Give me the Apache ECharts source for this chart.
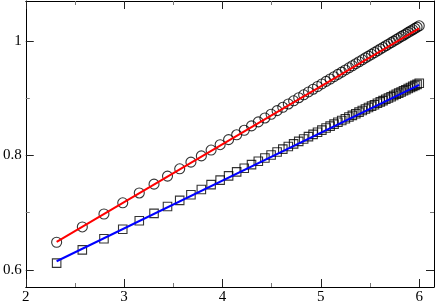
<!DOCTYPE html>
<html>
<head>
<meta charset="utf-8">
<script src="https://cdn.jsdelivr.net/npm/echarts@6/dist/echarts.min.js"></script>
<style>html,body{margin:0;padding:0;background:#fff}#c{width:436px;height:305px}</style>
</head>
<body>
<div id="c"></div>
<script>
var xValues = [2.314,2.575,2.795,2.986,3.154,3.304,3.441,3.565,3.679,3.785,3.884,3.976,4.062,4.144,4.221,4.295,4.364,4.431,4.494,4.555,4.613,4.669,4.723,4.775,4.825,4.874,4.921,4.966,5.010,5.053,5.094,5.134,5.173,5.212,5.249,5.285,5.320,5.355,5.388,5.421,5.453,5.484,5.515,5.545,5.575,5.604,5.632,5.660,5.687,5.714,5.740,5.766,5.791,5.816,5.840,5.864,5.888,5.911,5.934,5.956,5.978,6.000];
var circleValues = [0.6482,0.6750,0.6976,0.7172,0.7344,0.7498,0.7639,0.7766,0.7883,0.7992,0.8094,0.8188,0.8277,0.8361,0.8440,0.8516,0.8587,0.8655,0.8720,0.8783,0.8842,0.8900,0.8955,0.9009,0.9060,0.9110,0.9158,0.9205,0.9250,0.9294,0.9336,0.9377,0.9417,0.9457,0.9495,0.9532,0.9568,0.9604,0.9638,0.9672,0.9705,0.9736,0.9768,0.9799,0.9830,0.9860,0.9888,0.9917,0.9945,0.9972,0.9999,1.0026,1.0052,1.0077,1.0102,1.0126,1.0151,1.0175,1.0198,1.0221,1.0244,1.0266];
var squareValues = [0.6117,0.6349,0.6543,0.6710,0.6857,0.6988,0.7107,0.7214,0.7313,0.7404,0.7489,0.7568,0.7642,0.7712,0.7777,0.7840,0.7899,0.7956,0.8009,0.8061,0.8110,0.8157,0.8202,0.8246,0.8288,0.8329,0.8369,0.8406,0.8443,0.8479,0.8513,0.8547,0.8579,0.8611,0.8642,0.8672,0.8701,0.8730,0.8758,0.8785,0.8811,0.8837,0.8863,0.8887,0.8912,0.8936,0.8959,0.8982,0.9004,0.9026,0.9048,0.9069,0.9090,0.9110,0.9130,0.9149,0.9169,0.9188,0.9207,0.9225,0.9243,0.9261];
var redFitX = [2.314, 6.0];
var redFitY = [0.649, 1.022];
var blueFitX = [2.314, 6.0];
var blueFitY = [0.615, 0.9235];
var xMajorTicks = [2,3,4,5,6];
var xMinorTicks = [2.5,3.5,4.5,5.5];
var yMajorTicks = [0.6,0.8,1.0];
var yMinorTicks = [0.7,0.9];

function pairs(xs, ys){ return xs.map(function(x,i){ return [x, ys[i]]; }); }

var XMIN = 2, XMAX = 6.15, YMIN = 0.57, YMAX = 1.07;
var labelFont = {fontFamily:'Liberation Serif', fontSize:15, color:'#000'};

function xAx(pos, ticks, len, col, labels, showLine){
  return {type:'value', min:XMIN, max:XMAX, position:pos,
    axisLine:{show:showLine, onZero:false, lineStyle:{color:'#000', width:1}},
    axisTick:{show:true, inside:true, length:len, customValues:ticks, lineStyle:{color:col, width:1}},
    axisLabel:Object.assign({show:labels, customValues:ticks, margin:3}, labelFont),
    splitLine:{show:false}};
}
function yAx(pos, ticks, len, col, labels, showLine){
  return {type:'value', min:YMIN, max:YMAX, position:pos,
    axisLine:{show:showLine, onZero:false, lineStyle:{color:'#000', width:1}},
    axisTick:{show:true, inside:true, length:len, customValues:ticks, lineStyle:{color:col, width:1}},
    axisLabel:Object.assign({show:labels, customValues:ticks, margin:4}, labelFont),
    splitLine:{show:false}};
}

var chart = echarts.init(document.getElementById('c'), null, {renderer:'canvas'});
chart.setOption({
  animation:false,
  backgroundColor:'#fff',
  grid:{left:24, right:2, top:1, bottom:17, containLabel:false},
  xAxis:[
    xAx('bottom', xMajorTicks, 8, '#222', true, true),
    xAx('bottom', xMinorTicks, 4, '#777', false, false),
    xAx('top', xMajorTicks, 8, '#222', false, true),
    xAx('top', xMinorTicks, 4, '#777', false, false)
  ],
  yAxis:[
    yAx('left', yMajorTicks, 8, '#222', true, true),
    yAx('left', yMinorTicks, 4, '#777', false, false),
    yAx('right', yMajorTicks, 8, '#222', false, true),
    yAx('right', yMinorTicks, 4, '#777', false, false)
  ],
  series:[
    {type:'scatter', xAxisIndex:0, yAxisIndex:0, data:pairs(xValues, circleValues), symbol:'circle', symbolSize:10,
      itemStyle:{color:'rgba(0,0,0,0)', borderColor:'#000', borderWidth:1.1}, z:2},
    {type:'scatter', xAxisIndex:0, yAxisIndex:0, data:pairs(xValues, squareValues), symbol:'rect', symbolSize:8.5,
      itemStyle:{color:'rgba(0,0,0,0)', borderColor:'#000', borderWidth:1.1}, z:2},
    {type:'line', xAxisIndex:0, yAxisIndex:0, data:pairs(redFitX, redFitY), showSymbol:false,
      lineStyle:{color:'#ff0000', width:2}, z:3},
    {type:'line', xAxisIndex:0, yAxisIndex:0, data:pairs(blueFitX, blueFitY), showSymbol:false,
      lineStyle:{color:'#0000ff', width:2}, z:3}
  ]
});
</script>
</body>
</html>
